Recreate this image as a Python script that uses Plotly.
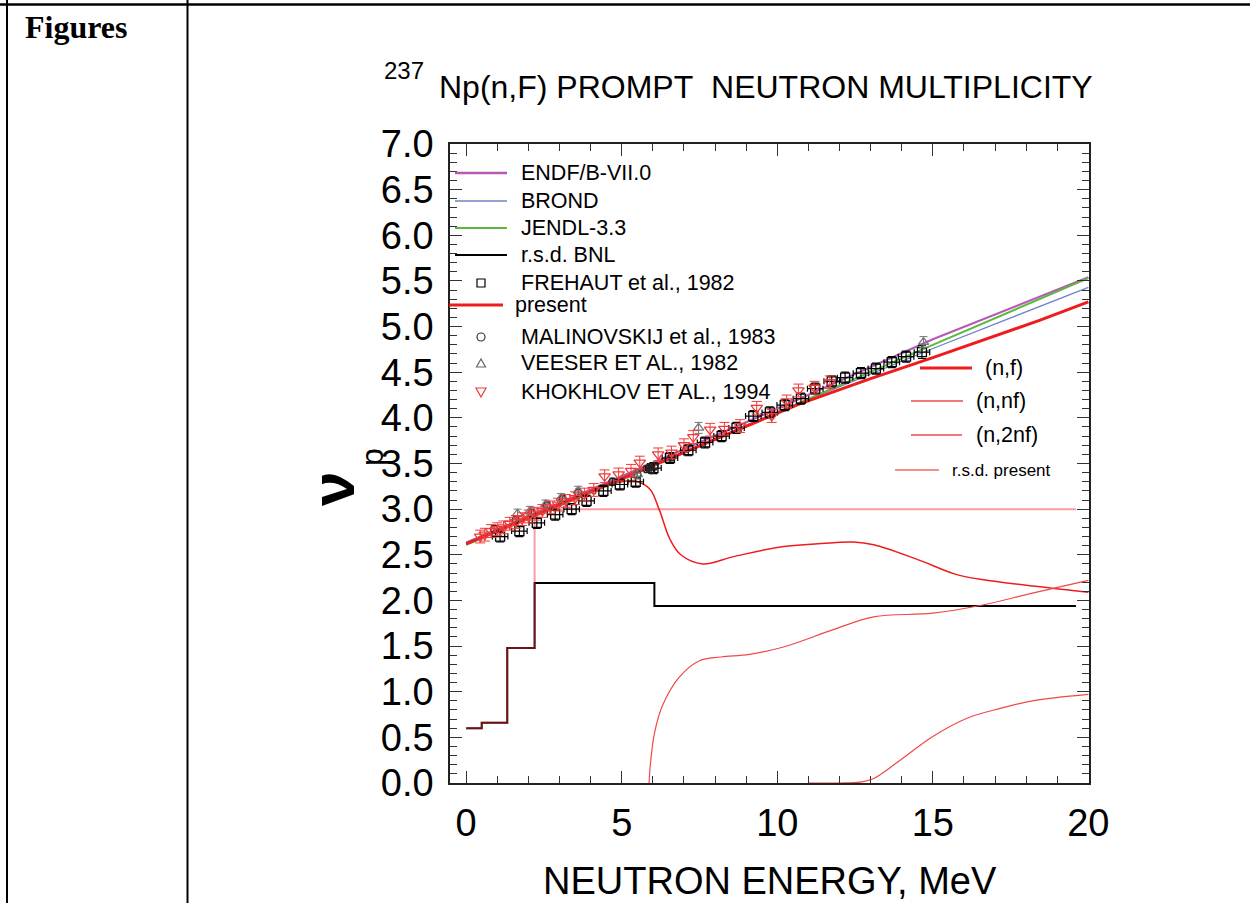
import plotly.graph_objects as go

# ---------------- evaluated prompt-nu curves (E in MeV) ----------------
endf_e = [0, 5, 10, 15, 20]
endf_nu = [2.63, 3.36, 4.10, 4.86, 5.54]

brond_e = [0, 5, 10, 15, 20]
brond_nu = [2.64, 3.34, 4.06, 4.76, 5.43]

jendl_e = [0, 5, 10, 15, 20]
jendl_nu = [2.61, 3.32, 4.06, 4.80, 5.53]

present_e = [0, 3, 6, 8, 10.7, 13, 15, 18.45, 20]
present_nu = [2.62, 3.05, 3.48, 3.77, 4.15, 4.43, 4.66, 5.07, 5.27]

# partial (chance) contributions
nf1_e = [0, 1, 2, 3, 4, 4.5, 5.0, 5.4, 5.9, 6.2, 6.55, 6.9, 7.6, 8.6, 10.0,
         11.3, 12.45, 13.1, 14.5, 15.8, 17.2, 20]
nf1_nu = [2.62, 2.76, 2.91, 3.05, 3.19, 3.25, 3.30, 3.31, 3.22, 3.00, 2.67,
          2.50, 2.40, 2.48, 2.58, 2.62, 2.64, 2.61, 2.45, 2.28, 2.20, 2.09]

nf2_e = [5.88, 5.92, 6.05, 6.3, 6.85, 7.5, 8.2, 9.1, 10.2, 11.8, 13.1, 15.0,
         16.6, 18.2, 20]
nf2_nu = [0.0, 0.20, 0.54, 0.84, 1.16, 1.34, 1.38, 1.41, 1.49, 1.68, 1.82,
          1.86, 1.95, 2.08, 2.22]

nf3_e = [11.0, 12.0, 12.66, 13.1, 13.95, 15.0, 16.1, 17.2, 18.2, 20]
nf3_nu = [0.0, 0.0, 0.01, 0.05, 0.25, 0.51, 0.71, 0.82, 0.90, 0.97]

# relative standard deviations (step functions)
rsd_bnl_e = [0, 0.5, 0.5, 1.32, 1.32, 2.2, 2.2, 6.05, 6.05, 19.6]
rsd_bnl_v = [0.60, 0.60, 0.66, 0.66, 1.48, 1.48, 2.19, 2.19, 1.94, 1.94]

rsd_present_e = [0, 0.5, 0.5, 1.32, 1.32, 2.2, 2.2, 19.6]
rsd_present_v = [0.60, 0.60, 0.66, 0.66, 1.48, 1.48, 3.00, 3.00]

# ---------------- experimental data ----------------
frehaut_e = [1.09, 1.71, 2.27, 2.86, 3.39, 3.87, 4.41, 4.94, 5.45, 6.02, 6.55,
             7.14, 7.68, 8.21, 8.69, 9.23, 9.76, 10.24, 10.76, 11.22, 11.75,
             12.18, 12.69, 13.17, 13.68, 14.14, 14.65]
frehaut_nu = [2.70, 2.76, 2.85, 2.94, 3.00, 3.09, 3.20, 3.27, 3.30, 3.45, 3.56,
              3.645, 3.73, 3.80, 3.89, 4.02, 4.06, 4.14, 4.21, 4.32, 4.40,
              4.44, 4.49, 4.54, 4.61, 4.67, 4.72]
frehaut_de = [0.25] * len(frehaut_e)
frehaut_dnu = [0.06, 0.06, 0.06, 0.06, 0.06, 0.06, 0.06, 0.06, 0.06, 0.06, 0.06,
               0.06, 0.06, 0.06, 0.06, 0.06, 0.06, 0.06, 0.06, 0.06, 0.06,
               0.06, 0.06, 0.06, 0.06, 0.06, 0.07]

malin_e = [0.9, 1.6, 2.1, 2.6, 3.1, 3.6, 4.7, 5.5, 5.8, 5.9, 5.95, 6.05, 6.6]
malin_nu = [2.78, 2.88, 2.96, 3.04, 3.11, 3.18, 3.30, 3.38, 3.44, 3.46, 3.43,
            3.47, 3.57]
malin_dnu = [0.04] * len(malin_e)

veeser_e = [1.65, 2.05, 2.55, 3.05, 3.6, 5.5, 7.47, 14.7]
veeser_nu = [2.95, 2.98, 3.05, 3.12, 3.20, 3.38, 3.89, 4.83]
veeser_dnu = [0.05, 0.05, 0.05, 0.05, 0.05, 0.05, 0.06, 0.06]

khokh_e = [0.45, 0.6, 0.8, 1.0, 1.2, 1.4, 1.6, 1.8, 2.0, 2.2, 2.45, 2.7, 2.95,
           3.2, 3.5, 3.8, 4.1, 4.45, 4.9, 5.3, 5.58, 6.17, 6.6, 7.0, 7.3, 7.84,
           8.3, 8.8, 9.34, 9.82, 10.3, 10.68, 11.2, 11.69]
khokh_nu = [2.70, 2.72, 2.76, 2.78, 2.80, 2.84, 2.86, 2.89, 2.92, 2.95, 2.98,
            3.02, 3.05, 3.09, 3.12, 3.16, 3.21, 3.36, 3.38, 3.42, 3.51, 3.60,
            3.62, 3.70, 3.79, 3.87, 3.88, 3.91, 4.11, 4.02, 4.18, 4.30, 4.33,
            4.39]
khokh_dnu = [0.07] * len(khokh_e)

# ---------------- page geometry (pixels) ----------------
W, H = 1250, 903
PL, PR, PT, PB = 450, 1089, 144, 783


def fx(x):
    return (x - PL) / (PR - PL)


def fy(y):
    return (PB - y) / (PB - PT)


FONT = "Liberation Sans"
RED = "#ee1c1c"
RED_THIN = "#f04848"
RSD_RED = "rgba(240,40,40,0.45)"
MAGENTA = "#b65ab6"
BLUE = "#6f82c4"
GREEN = "#5cb83c"

fig = go.Figure()

# step functions
fig.add_trace(go.Scatter(x=rsd_bnl_e, y=rsd_bnl_v, mode="lines",
                         line=dict(color="black", width=2)))
fig.add_trace(go.Scatter(x=rsd_present_e, y=rsd_present_v, mode="lines",
                         line=dict(color=RSD_RED, width=2)))

# chance-fission components
fig.add_trace(go.Scatter(x=nf1_e, y=nf1_nu, mode="lines", line_shape="spline",
                         line=dict(color=RED, width=1.5)))
fig.add_trace(go.Scatter(x=nf2_e, y=nf2_nu, mode="lines", line_shape="spline",
                         line=dict(color=RED_THIN, width=1.2)))
fig.add_trace(go.Scatter(x=nf3_e, y=nf3_nu, mode="lines", line_shape="spline",
                         line=dict(color=RED_THIN, width=1.2)))

# evaluations
fig.add_trace(go.Scatter(x=endf_e, y=endf_nu, mode="lines",
                         line=dict(color=MAGENTA, width=2.2)))
fig.add_trace(go.Scatter(x=brond_e, y=brond_nu, mode="lines",
                         line=dict(color=BLUE, width=1.3)))
fig.add_trace(go.Scatter(x=jendl_e, y=jendl_nu, mode="lines",
                         line=dict(color=GREEN, width=2)))
fig.add_trace(go.Scatter(x=present_e, y=present_nu, mode="lines",
                         line=dict(color=RED, width=3)))

# measurements
fig.add_trace(go.Scatter(
    x=frehaut_e, y=frehaut_nu, mode="markers",
    marker=dict(symbol="square-open", size=9, color="black", line=dict(width=1.3)),
    error_x=dict(type="data", array=frehaut_de, color="black", thickness=1.2, width=3),
    error_y=dict(type="data", array=frehaut_dnu, color="black", thickness=1.2, width=4)))
fig.add_trace(go.Scatter(
    x=malin_e, y=malin_nu, mode="markers",
    marker=dict(symbol="circle-open", size=7, color="#222", line=dict(width=1.5)),
    error_y=dict(type="data", array=malin_dnu, color="#222", thickness=1, width=3)))
fig.add_trace(go.Scatter(
    x=veeser_e, y=veeser_nu, mode="markers",
    marker=dict(symbol="triangle-up-open", size=9, color="#777", line=dict(width=1.3)),
    error_y=dict(type="data", array=veeser_dnu, color="#777", thickness=1, width=4)))
fig.add_trace(go.Scatter(
    x=khokh_e, y=khokh_nu, mode="markers",
    marker=dict(symbol="triangle-down-open", size=10, color="#f03a3a", line=dict(width=1.3)),
    error_y=dict(type="data", array=khokh_dnu, color="#f03a3a", thickness=1, width=5)))

shapes = []
annotations = []


def hline(x0, x1, y, color, width):
    shapes.append(dict(type="line", xref="paper", yref="paper",
                       x0=fx(x0), x1=fx(x1), y0=fy(y), y1=fy(y),
                       line=dict(color=color, width=width)))


def vline(x, y0, y1, color, width):
    shapes.append(dict(type="line", xref="paper", yref="paper",
                       x0=fx(x), x1=fx(x), y0=fy(y0), y1=fy(y1),
                       line=dict(color=color, width=width)))


def label(x, y, text, size, xanchor="left", **kw):
    annotations.append(dict(xref="paper", yref="paper", x=fx(x), y=fy(y),
                            text=text, showarrow=False, xanchor=xanchor,
                            yanchor="middle",
                            font=dict(family=kw.pop("family", FONT), size=size,
                                      color=kw.pop("color", "black")), **kw))


# table frame around the figure cell
hline(0, W, 4.5, "black", 2.5)
vline(7, 0, H, "black", 2)
vline(187.5, 0, H, "black", 2)
label(23, 27, "<b>Figures</b>", 32, family="Liberation Serif")

# title
label(382, 71, "237", 24)
label(437, 87, "Np(n,F) PROMPT\u00a0 NEUTRON MULTIPLICITY", 32)

# axis titles
label(769.5, 881, "NEUTRON ENERGY, MeV", 38, xanchor="center")
label(332, 489, "<b>\u03bd</b>", 62, xanchor="center", textangle=-90)
label(372, 457, "p", 32, xanchor="center", textangle=-90)

# legend, upper left
LS = 21.5
hline(455, 507, 173, MAGENTA, 2.5)
label(519, 173, "ENDF/B-VII.0", LS)
hline(455, 507, 201, BLUE, 1.3)
label(519, 201, "BROND", LS)
hline(455, 507, 228, GREEN, 2.2)
label(519, 228, "JENDL-3.3", LS)
hline(455, 507, 255, "black", 2)
label(519, 255, "r.s.d. BNL", LS)
shapes.append(dict(type="rect", xref="paper", yref="paper",
                   x0=fx(477), x1=fx(485), y0=fy(279), y1=fy(287),
                   line=dict(color="black", width=1.2)))
label(519, 283, "FREHAUT et al., 1982", LS)
hline(449, 503, 305, RED, 3)
label(513, 305, "present", LS)
shapes.append(dict(type="circle", xref="paper", yref="paper",
                   x0=fx(477), x1=fx(485), y0=fy(333), y1=fy(341),
                   line=dict(color="#333", width=1.2)))
label(519, 337, "MALINOVSKIJ et al., 1983", LS)
shapes.append(dict(type="path", xref="paper", yref="paper",
                   path=f"M {fx(476.5)},{fy(367)} L {fx(485.5)},{fy(367)} L {fx(481)},{fy(359)} Z",
                   line=dict(color="#666", width=1.2)))
label(519, 363, "VEESER ET AL., 1982", LS)
shapes.append(dict(type="path", xref="paper", yref="paper",
                   path=f"M {fx(476)},{fy(388)} L {fx(486)},{fy(388)} L {fx(481)},{fy(397)} Z",
                   line=dict(color="#f03a3a", width=1.2)))
label(519, 392, "KHOKHLOV ET AL., 1994", LS)

# legend, right side
hline(920, 972, 368, RED, 3)
label(983, 368, "(n,f)", LS)
hline(911, 963, 401, RED_THIN, 1.5)
label(974, 401, "(n,nf)", LS)
hline(911, 962, 435, RED_THIN, 1.5)
label(974, 435, "(n,2nf)", LS)
hline(895, 939, 470, "#f06a6a", 1.5)
label(950, 470, "r.s.d. present", 17)

axis_common = dict(showline=True, linecolor="#222", linewidth=1.5, mirror="ticks",
                   ticks="inside", ticklen=12, tickwidth=1.4, tickcolor="#333",
                   showgrid=False, zeroline=False,
                   tickfont=dict(family=FONT, size=38, color="black"))

fig.update_layout(
    width=W, height=H,
    margin=dict(l=PL, r=W - PR, t=PT, b=H - PB, pad=0),
    paper_bgcolor="white", plot_bgcolor="white",
    showlegend=False,
    xaxis=dict(range=[-0.52, 20.02], tick0=0, dtick=5, ticklabelstandoff=6,
               minor=dict(ticks="inside", ticklen=7, dtick=1, tickwidth=1.2,
                          tickcolor="#333", showgrid=False),
               **axis_common),
    yaxis=dict(range=[0, 7], tick0=0, dtick=0.5, tickformat=".1f",
               ticklabelstandoff=7,
               minor=dict(ticks="inside", ticklen=7, dtick=0.1, tickwidth=1.2,
                          tickcolor="#333", showgrid=False),
               **axis_common),
    shapes=shapes,
    annotations=annotations,
)

fig.write_html("out.html")
